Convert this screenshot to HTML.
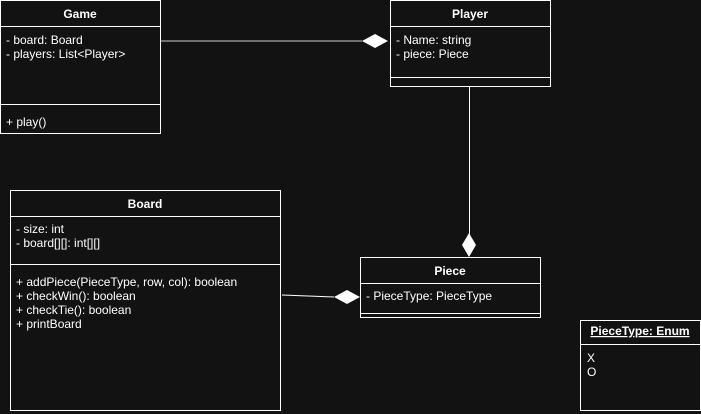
<!DOCTYPE html>
<html><head><style>body{margin:0;background:#121212}svg{display:block}text{font-family:"Liberation Sans",sans-serif;font-size:12px;fill:#fff}</style></head><body>
<svg width="701" height="414" viewBox="0 0 701 414">
<rect width="701" height="414" fill="#121212"/>
<g fill="none" stroke="#fff" stroke-width="1">
<rect x="0.5" y="0.5" width="160" height="133"/><line x1="0" y1="26.5" x2="161" y2="26.5"/><line x1="0" y1="104.5" x2="161" y2="104.5"/>
<rect x="390.5" y="0.5" width="160" height="86"/><line x1="390" y1="26.5" x2="551" y2="26.5"/><line x1="390" y1="77.5" x2="551" y2="77.5"/>
<rect x="10.5" y="190.5" width="270" height="220"/><line x1="10" y1="216.5" x2="281" y2="216.5"/><line x1="10" y1="264.5" x2="281" y2="264.5"/>
<rect x="360.5" y="257.5" width="180" height="60"/><line x1="360" y1="283.5" x2="541" y2="283.5"/><line x1="360" y1="313.5" x2="541" y2="313.5"/>
<rect x="580.5" y="320.5" width="120" height="90"/><line x1="580" y1="344.5" x2="701" y2="344.5"/>
<line x1="161" y1="41" x2="362" y2="41" stroke="#ccc"/>
<line x1="469.5" y1="87" x2="469.5" y2="234"/>
<line x1="282" y1="295" x2="334" y2="297"/>
</g>
<g fill="#fff">
<polygon points="362,41 375,34 388,41 375,48"/>
<polygon points="469,233 476,245 469,257 462,245"/>
<polygon points="334,297 347,290 360,297 347,304"/>
</g>
<g font-weight="bold" text-anchor="middle">
<text x="80" y="18">Game</text><text x="470" y="18">Player</text><text x="145" y="208">Board</text><text x="450" y="275">Piece</text>
<text x="640" y="335" text-decoration="underline">PieceType: Enum</text>
</g>
<text x="6" y="44">- board: Board</text><text x="6" y="58">- players: List&lt;Player&gt;</text><text x="6" y="126">+ play()</text>
<text x="396" y="44">- Name: string</text><text x="396" y="58">- piece: Piece</text>
<text x="16" y="233">- size: int</text><text x="16" y="247">- board[][]: int[][]</text>
<text x="16" y="286">+ addPiece(PieceType, row, col): boolean</text><text x="16" y="300">+ checkWin(): boolean</text><text x="16" y="314">+ checkTie(): boolean</text><text x="16" y="328">+ printBoard</text>
<text x="366" y="300">- PieceType: PieceType</text>
<text x="587" y="362">X</text><text x="587" y="376">O</text>
</svg></body></html>
